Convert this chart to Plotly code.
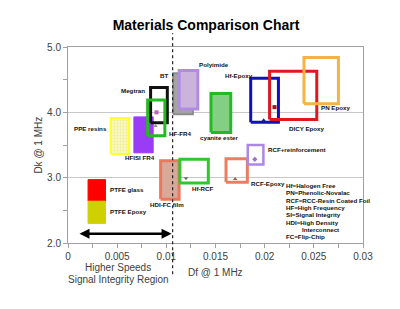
import plotly.graph_objects as go

# ---- data ----
names = ["PPE resins", "HFISI FR4", "Megtran", "HF-FR4", "BT", "Polyimide", "cyanite ester",
         "Hf-Epoxy", "DICY Epoxy", "PN Epoxy", "PTFE glass", "PTFE Epoxy", "HDI-FC film",
         "Hf-RCF", "RCF-Epoxy", "RCF+reinforcement"]
df_lo = [0.00436, 0.0067, 0.0084, 0.0081, 0.0107, 0.0113, 0.01454, 0.01858, 0.0205, 0.0240,
         0.00204, 0.00204, 0.00942, 0.01138, 0.01607, 0.01828]
df_hi = [0.0062, 0.00866, 0.0101, 0.00985, 0.0127, 0.0132, 0.01655, 0.0214, 0.0253, 0.0275,
         0.00381, 0.00381, 0.0113, 0.01427, 0.01824, 0.01987]
dk_lo = [3.36, 3.38, 3.84, 3.64, 3.97, 4.05, 3.69, 3.85, 3.89, 4.13,
         2.64, 2.30, 2.67, 2.92, 2.93, 3.20]
dk_hi = [3.91, 3.93, 4.38, 4.19, 4.60, 4.64, 4.29, 4.52, 4.63, 4.84,
         2.97, 2.64, 3.26, 3.28, 3.29, 3.50]

# typical-value markers
mk_df = [0.0090, 0.0089, 0.0199, 0.0210, 0.0120, 0.0170, 0.0190]
mk_dk = [4.00, 3.79, 3.88, 4.08, 2.99, 2.98, 3.28]

# label positions
lab_text = ["PPE resins", "HFISI FR4", "Megtran", "HF-FR4", "BT", "Polyimide", "cyanite ester",
            "Hf-Epoxy", "DICY Epoxy", "PN Epoxy", "PTFE glass", "PTFE Epoxy", "HDI-FC film",
            "Hf-RCF", "RCF-Epoxy", "RCF+reinforcement"]
lab_df = [0.00415, 0.0073, 0.00802, 0.01003, 0.01036, 0.01308, 0.01536,
          0.01577, 0.0223, 0.02548, 0.00402, 0.00402, 0.01003,
          0.0124, 0.01841, 0.02015]
lab_dk = [3.75, 3.31, 4.34, 3.67, 4.56, 4.73, 3.61,
          4.57, 3.76, 4.07, 2.82, 2.48, 2.59,
          2.83, 2.91, 3.43]

legend_lines = ["Hf=Halogen Free", "PN=Phenolic-Novalac", "RCF=RCC-Resin Coated Foil",
                "HF=High Frequency", "SI=Signal Integrity", "HDI=High Density",
                "Interconnect", "FC=Flip-Chip"]

x_tickvals = [0, 0.005, 0.01, 0.015, 0.02, 0.025, 0.03]
x_ticktext = ["0", "0.005", "0.01", "0.015", "0.02", "0.025", "0.03"]
y_tickvals = [2, 3, 4, 5]
y_ticktext = ["2.0", "3.0", "4.0", "5.0"]

region_df = [0.00102, 0.01053]
region_dk = 2.14
si_boundary = 0.01064

# ---- styles ----
line_col = ["#ffff33", "#9a3cf5", "#111111", "#22bb22", "#8c8c8c", "#b08ce0", "#22bb22",
            "#1010c0", "#dd1820", "#f0b448", "#ff0000", "#d0d000", "#e8795c",
            "#33c433", "#ec7d62", "#ac88e4"]
fill_col = ["#f8f8b8", "#9a3cf5", None, None, "#a4a4a4", "#cbb4dc", "#84cf84",
            None, None, None, "#ff0000", "#d0d000", "#d8a898",
            None, None, None]
line_w = [2.5, 1, 3, 3, 2, 3, 3, 3, 3, 3, 1, 1, 3, 3, 3, 2.5]
lab_anchor = ["right", "center", "right", "left", "right", "left", "center",
              "left", "left", "left", "left", "left", "center", "left", "left", "left"]
mk_symbol = ["square", "triangle-up", "triangle-up", "square", "triangle-down", "triangle-up", "diamond"]
mk_color = ["#c060c0", "#909090", "#202080", "#a01020", "#607060", "#a06040", "#a070c0"]

fig = go.Figure()
for i, n in enumerate(names):
    xs = [df_lo[i], df_hi[i], df_hi[i], df_lo[i], df_lo[i]]
    ys = [dk_lo[i], dk_lo[i], dk_hi[i], dk_hi[i], dk_lo[i]]
    kw = {}
    if fill_col[i]:
        kw["fill"] = "toself"
        kw["fillcolor"] = fill_col[i]
    if n == "PPE resins":
        kw["fillpattern"] = dict(shape=".", fgcolor="#e2e270", bgcolor="#f8f8c0", size=3, solidity=0.3)
    fig.add_trace(go.Scatter(x=xs, y=ys, mode="lines", line=dict(color=line_col[i], width=line_w[i]),
                             showlegend=False, hoverinfo="skip", **kw))

fig.add_trace(go.Scatter(x=mk_df, y=mk_dk, mode="markers",
                         marker=dict(symbol=mk_symbol, color=mk_color, size=4),
                         showlegend=False, hoverinfo="skip"))

lab_font = dict(family="Liberation Sans, Arial, sans-serif",
                size=6.2, color="#111111", weight="bold")
for t, x, y, a in zip(lab_text, lab_df, lab_dk, lab_anchor):
    fig.add_annotation(x=x, y=y, text=t, showarrow=False, xanchor=a, yanchor="middle",
                       font=lab_font)

# legend text block
leg_x = 0.02198
leg_y0 = 2.88
for k, t in enumerate(legend_lines):
    fig.add_annotation(x=leg_x + (0.0016 if t == "Interconnect" else 0), y=leg_y0 - k * 0.112,
                       text=t, showarrow=False, xanchor="left", yanchor="middle", font=lab_font)

# signal integrity region arrow
fig.add_annotation(x=region_df[1], y=region_dk, ax=region_df[0], ay=region_dk,
                   xref="x", yref="y", axref="x", ayref="y", text="", showarrow=True,
                   arrowhead=2, arrowside="end+start", arrowsize=0.8, arrowwidth=2.5,
                   arrowcolor="#000000")

# dotted boundary
fig.add_shape(type="line", xref="x", yref="paper", x0=si_boundary, x1=si_boundary,
              y0=-0.16, y1=1.07, line=dict(color="#222222", width=1.2, dash="dot"))

axis_font = dict(family="Liberation Sans, Arial, sans-serif", size=10, color="#404040")
fig.add_annotation(xref="paper", yref="paper", x=0.17, y=-0.126, text="Higher Speeds",
                   showarrow=False, font=axis_font, xanchor="center", yanchor="middle")
fig.add_annotation(xref="paper", yref="paper", x=0.17, y=-0.186, text="Signal Integrity Region",
                   showarrow=False, font=axis_font, xanchor="center", yanchor="middle")
fig.add_annotation(xref="paper", yref="paper", x=0.4, y=-0.15, text="Df @ 1 MHz",
                   showarrow=False, font=axis_font, xanchor="left", yanchor="middle")
fig.add_annotation(xref="paper", yref="paper", x=-0.103, y=0.5, text="Dk @ 1 MHz",
                   showarrow=False, font=axis_font, textangle=-90, xanchor="center", yanchor="middle")

fig.update_layout(
    width=400, height=309,
    margin=dict(l=68, r=37, t=47, b=65.5),
    paper_bgcolor="white", plot_bgcolor="white",
    title=dict(text="<b>Materials Comparison Chart</b>", x=0.515, xanchor="center",
               y=1 - 25 / 309, yanchor="middle",
               font=dict(family="Liberation Sans, Arial, sans-serif", size=14, color="#000000")),
    xaxis=dict(range=[0, 0.03], tickvals=x_tickvals, ticktext=x_ticktext, showgrid=False,
               zeroline=False, showline=True, linecolor="#a0a0a0", linewidth=1, mirror=True,
               ticks="outside", ticklen=4, tickcolor="#a0a0a0",
               minor=dict(dtick=0.0025, ticks="outside", ticklen=4, tickcolor="#a0a0a0", showgrid=False),
               tickfont=axis_font),
    yaxis=dict(range=[2, 5], tickvals=y_tickvals, ticktext=y_ticktext, showgrid=True,
               gridcolor="#c8c8c8", gridwidth=1, zeroline=False, showline=True,
               linecolor="#a0a0a0", linewidth=1, mirror=True,
               ticks="outside", ticklen=4, tickcolor="#a0a0a0",
               minor=dict(dtick=0.5, ticks="outside", ticklen=4, tickcolor="#a0a0a0", showgrid=False),
               tickfont=axis_font),
)

fig.write_html("out.html")
